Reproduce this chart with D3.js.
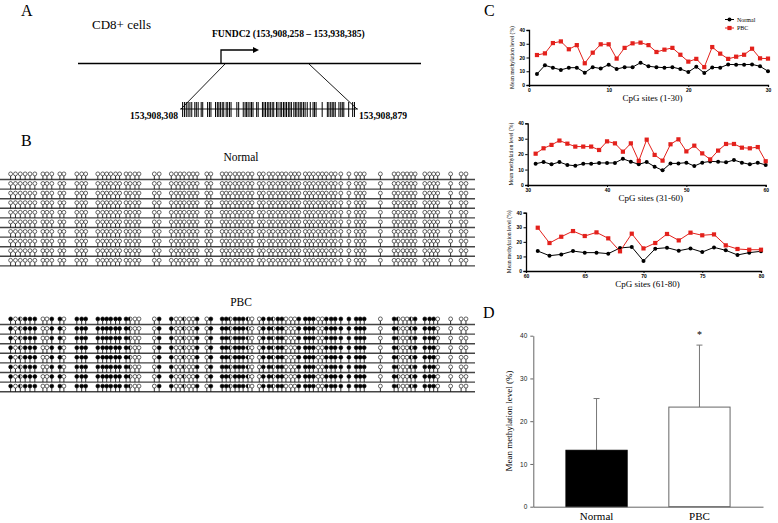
<!DOCTYPE html>
<html><head><meta charset="utf-8">
<script src="https://cdn.jsdelivr.net/npm/d3@7"></script>
<style>body{margin:0;background:#fff}svg{display:block}</style>
</head><body><svg id="c" width="778" height="523"></svg>
<script>
// ---------- DATA ----------
// CpG site offsets (bp from 153,908,308) across the 571 bp amplicon
const cpgOffset = [2,8,14,20,26,32, 42,47,53, 63,68, 84,90,95, 110,116,121,126,132,137,
  145,150,156,161, 180,186, 201,207,212,217,223,228,233, 245,250, 264,269,274,280,
  285,290,296,301,310,315, 322,327,333,338,343,349,354,359,
  367,372,377,383,388,393,399,404, 411, 421, 430,435,440, 460,
  477,482,488,493,498,503, 515,521,526,531, 547, 560,566];
const ampliconStart = "153,908,308", ampliconEnd = "153,908,879", ampliconLen = 571;
const geneLabel = "FUNDC2 (153,908,258 – 153,938,385)";
// PBC clone methylation: f = methylated, o = unmethylated, h = partial
const pbcState = ("fohfff oof fo fff ffffff fhoo of foohoof of ffhf " +
  "ffhoof fhffooof fffoofff f f fff o fhoohf fffo o oo").replace(/\s/g, "").split("");
const normalClones = 10, pbcClones = 8;

const normalA = [8,14.3,12.6,11,12.6,12.6,9,13,12,14.8,11.6,13,13,16.2,13.6,13,12.6,13,11.6,9.5,13.3,8.7,12.8,12.6,15,14.8,14.8,15,13.6,10];
const pbcA    = [21.8,23,30.5,31.7,26,29,15.8,23.5,29.6,29.6,19.2,27,30.3,30.8,29,24,25.7,27,22,17,19,13,27.6,22.8,19,20.6,22,26.4,19.4,19.2];
const normalB = [13.8,14.9,13.4,14.9,13,12.5,13.8,13.8,14.3,14.3,14.3,17,15.1,13.4,14.9,11.9,9.5,14,14,14.5,12.3,14.5,15.3,15.1,14.7,16.2,14.5,13.4,14.5,13];
const pbcB    = [20.3,23.8,26,28.8,26.8,24.9,24.9,24.9,22.7,28.3,27,21.6,27,15.6,29.4,19.5,15.8,26.4,29.6,21.8,25.5,20.5,16.6,22.3,26.6,26.6,24.2,23.8,24.6,15.4];
const normalC = [13.7,10.5,11.4,13.7,12.6,12.6,11.9,15.8,16.5,6.9,15.3,16,13.9,15.5,13,16.2,14.2,11,12.6,13.5];
const pbcC    = [29.7,19.2,23.5,27.4,24,26.5,22.4,13.5,25.6,15.5,19.2,25.4,21,26.3,24.5,25.1,17.6,15.1,14.6,14.6];
const seriesNames = ["Normal", "PBC"];
const yTicksC = [0,10,20,30,40];

const barGroups = ["Normal", "PBC"];
const barMeans = [13.2, 23.3];
const barSD = [12.1, 14.5];
const yTicksD = [0,10,20,30,40];

// ---------- DRAW ----------
const svg = d3.select("#c");
const serif = "Liberation Serif, Times New Roman, serif";
const sans = "Liberation Sans, Arial, sans-serif";
function letter(t, x, y) {
  svg.append("text").attr("x", x).attr("y", y).attr("font-family", serif)
    .attr("font-size", 16).attr("fill", "#000").text(t);
}
letter("A", 21, 16); letter("B", 21, 146); letter("C", 484, 16); letter("D", 483, 318);

// ---- Panel A ----
const gA = svg.append("g");
gA.append("text").attr("x", 92).attr("y", 29).attr("font-family", serif).attr("font-size", 13).text("CD8+ cells");
gA.append("text").attr("x", 212).attr("y", 37).attr("font-family", serif).attr("font-size", 9.6)
  .attr("font-weight", "bold").text(geneLabel);
gA.append("line").attr("x1", 78).attr("x2", 421).attr("y1", 63.5).attr("y2", 63.5)
  .attr("stroke", "#000").attr("stroke-width", 1.6);
gA.append("path").attr("d", "M221,63 V50 H255").attr("fill", "none").attr("stroke", "#000").attr("stroke-width", 1.3);
gA.append("path").attr("d", "M259,50 L253,47 L253,53 Z").attr("fill", "#000");
const xA = d3.scaleLinear().domain([0, ampliconLen]).range([182, 356]);
gA.append("line").attr("x1", 225).attr("y1", 64).attr("x2", xA(0) - 1).attr("y2", 109).attr("stroke", "#000").attr("stroke-width", 0.9);
gA.append("line").attr("x1", 309).attr("y1", 64).attr("x2", xA(ampliconLen) + 1).attr("y2", 109).attr("stroke", "#000").attr("stroke-width", 0.9);
gA.append("line").attr("x1", xA(0) - 2).attr("x2", xA(ampliconLen) + 2).attr("y1", 109).attr("y2", 109)
  .attr("stroke", "#000").attr("stroke-width", 0.9);
gA.selectAll("line.tk").data(cpgOffset).join("line").attr("class", "tk")
  .attr("x1", d => xA(d)).attr("x2", d => xA(d)).attr("y1", 102).attr("y2", 117)
  .attr("stroke", "#000").attr("stroke-width", 1);
gA.append("text").attr("x", 178).attr("y", 119).attr("text-anchor", "end").attr("font-family", serif)
  .attr("font-size", 9.6).attr("font-weight", "bold").text(ampliconStart);
gA.append("text").attr("x", 359).attr("y", 119).attr("font-family", serif)
  .attr("font-size", 9.6).attr("font-weight", "bold").text(ampliconEnd);

// ---- Panel B ----
const xB = d3.scaleLinear().domain([0, ampliconLen]).range([9, 470]);
function lollipops(title, titleY, y0, nRows, states) {
  const g = svg.append("g");
  g.append("text").attr("x", 241).attr("y", titleY).attr("text-anchor", "middle")
    .attr("font-family", serif).attr("font-size", 11.5).text(title);
  const yRow = d3.scaleLinear().domain([0, 1]).range([y0, y0 + 9.6]);
  d3.range(nRows).forEach(r => {
    const y = yRow(r);
    g.append("line").attr("x1", 0).attr("x2", 475).attr("y1", y).attr("y2", y)
      .attr("stroke", "#444").attr("stroke-width", 1.4);
    const s = g.selectAll(null).data(cpgOffset.map((d, i) => ({ x: xB(d), st: states[i] }))).join("g");
    s.append("line").attr("x1", d => d.x).attr("x2", d => d.x).attr("y1", y).attr("y2", y - 3.6)
      .attr("stroke", "#000").attr("stroke-width", 0.8);
    s.append("circle").attr("cx", d => d.x).attr("cy", y - 5.6).attr("r", 1.95)
      .attr("fill", d => d.st === "f" ? "#000" : "#fff").attr("stroke", "#000").attr("stroke-width", 0.6);
    s.filter(d => d.st === "h").append("path")
      .attr("d", d => `M${d.x},${y - 7.55} A1.95,1.95 0 0 0 ${d.x},${y - 3.65} Z`).attr("fill", "#000");
  });
}
lollipops("Normal", 161, 179.5, normalClones, cpgOffset.map(() => "o"));
lollipops("PBC", 306, 324.5, pbcClones, pbcState);

// ---- Panel C ----
const cCharts = [
  { n: normalA, p: pbcA, start: 1, dom: [0, 30], ticks: [0,10,20,30], x0: 529, x1: 768, yb: 85, yt: 30, label: "CpG sites (1-30)", legend: true },
  { n: normalB, p: pbcB, start: 31, dom: [30, 60], ticks: [30,40,50,60], x0: 527.7, x1: 765.7, yb: 185, yt: 123.3, label: "CpG sites (31-60)" },
  { n: normalC, p: pbcC, start: 61, dom: [60, 80], ticks: [60,65,70,75,80], x0: 526, x1: 761, yb: 271, yt: 212.7, label: "CpG sites (61-80)" }
];
cCharts.forEach(c => {
  const g = svg.append("g");
  const x = d3.scaleLinear().domain(c.dom).range([c.x0, c.x1]);
  const y = d3.scaleLinear().domain([0, 40]).range([c.yb, c.yt]);
  const ax = g.append("g").attr("transform", `translate(0,${c.yb})`)
    .call(d3.axisBottom(x).tickValues(c.ticks).tickSize(2).tickPadding(1.5));
  const ay = g.append("g").attr("transform", `translate(${c.x0},0)`)
    .call(d3.axisLeft(y).tickValues(yTicksC).tickSize(2.5).tickPadding(1.5));
  [ax, ay].forEach(a => {
    a.select(".domain").attr("stroke-width", 1.3);
    a.selectAll("text").attr("font-family", sans).attr("font-size", 5).attr("font-weight", "bold");
    a.selectAll(".tick line").attr("stroke-width", 1);
  });
  g.append("text").attr("x", (c.x0 + c.x1) / 2 + 4).attr("y", c.yb + 16).attr("text-anchor", "middle")
    .attr("font-family", serif).attr("font-size", 9).attr("fill", "#000").text(c.label);
  g.append("text").attr("transform", `translate(${c.x0 - 15},${(c.yb + c.yt) / 2}) rotate(-90)`)
    .attr("text-anchor", "middle").attr("font-family", serif).attr("font-size", 5.6).attr("fill", "#000")
    .text("Mean methylation level (%)");
  const sets = [{ v: c.n, col: "#000", sq: false }, { v: c.p, col: "#e3211c", sq: true }];
  sets.forEach(s => {
    const pts = s.v.map((d, i) => [x(c.start + i), y(d)]);
    g.append("path").attr("d", d3.line()(pts)).attr("fill", "none").attr("stroke", s.col).attr("stroke-width", 1);
    if (s.sq) g.selectAll(null).data(pts).join("rect").attr("x", d => d[0] - 2.1).attr("y", d => d[1] - 2.1)
      .attr("width", 4.2).attr("height", 4.2).attr("fill", s.col);
    else g.selectAll(null).data(pts).join("circle").attr("cx", d => d[0]).attr("cy", d => d[1]).attr("r", 2).attr("fill", s.col);
  });
  if (c.legend) {
    const leg = [{ name: seriesNames[0], col: "#000", sq: false, y: 19.5 }, { name: seriesNames[1], col: "#e3211c", sq: true, y: 28 }];
    leg.forEach(l => {
      g.append("line").attr("x1", 725).attr("x2", 734).attr("y1", l.y).attr("y2", l.y).attr("stroke", l.col).attr("stroke-width", 1);
      if (l.sq) g.append("rect").attr("x", 727.4).attr("y", l.y - 2.1).attr("width", 4.2).attr("height", 4.2).attr("fill", l.col);
      else g.append("circle").attr("cx", 729.5).attr("cy", l.y).attr("r", 2).attr("fill", l.col);
      g.append("text").attr("x", 737).attr("y", l.y + 2).attr("font-family", serif).attr("font-size", 6).attr("fill", "#000").text(l.name);
    });
  }
});

// ---- Panel D ----
const gD = svg.append("g");
const xD = d3.scaleBand().domain(barGroups).range([533, 763]).paddingInner(0.405).paddingOuter(0.32);
const yD = d3.scaleLinear().domain([0, 40]).range([506.7, 335.7]);
barGroups.forEach((b, i) => {
  const cx = xD(b) + xD.bandwidth() / 2;
  gD.append("line").attr("x1", cx).attr("x2", cx).attr("y1", yD(barMeans[i])).attr("y2", yD(barMeans[i] + barSD[i]))
    .attr("stroke", "#777").attr("stroke-width", 1);
  gD.append("line").attr("x1", cx - 3).attr("x2", cx + 3).attr("y1", yD(barMeans[i] + barSD[i])).attr("y2", yD(barMeans[i] + barSD[i]))
    .attr("stroke", "#777").attr("stroke-width", 1);
  gD.append("rect").attr("x", xD(b)).attr("width", xD.bandwidth()).attr("y", yD(barMeans[i]))
    .attr("height", yD(0) - yD(barMeans[i]))
    .attr("fill", i === 0 ? "#000" : "#fff").attr("stroke", i === 0 ? "#000" : "#666").attr("stroke-width", 1);
});
const axD = gD.append("g").attr("transform", "translate(0,506.7)")
  .call(d3.axisBottom(xD).tickSize(0).tickPadding(6).tickSizeOuter(0));
axD.select(".domain").attr("stroke", "#666");
axD.selectAll("text").attr("font-family", serif).attr("font-size", 11).attr("fill", "#000");
const ayD = gD.append("g").attr("transform", "translate(533.3,0)")
  .call(d3.axisLeft(yD).tickValues(yTicksD).tickSize(3).tickPadding(3).tickSizeOuter(0));
ayD.select(".domain").attr("stroke", "#666");
ayD.selectAll(".tick line").attr("stroke", "#666");
ayD.selectAll("text").attr("font-family", sans).attr("font-size", 6.5).attr("fill", "#222");
gD.append("text").attr("transform", "translate(512,421) rotate(-90)").attr("text-anchor", "middle")
  .attr("font-family", serif).attr("font-size", 9).attr("fill", "#000").text("Mean methylation level (%)");
gD.append("text").attr("x", xD("PBC") + xD.bandwidth() / 2).attr("y", 338).attr("text-anchor", "middle")
  .attr("font-family", serif).attr("font-size", 10).attr("fill", "#000").text("*");
</script></body></html>
